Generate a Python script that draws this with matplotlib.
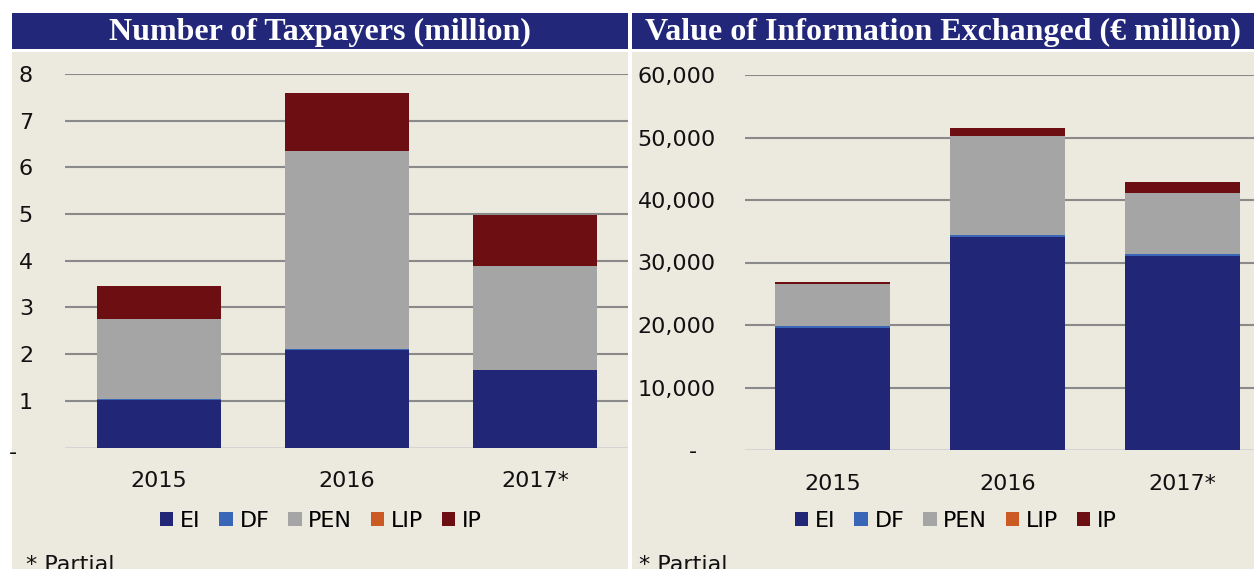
import matplotlib
matplotlib.use("Agg")
import matplotlib.pyplot as plt
import matplotlib.transforms as mtrans
from matplotlib.patches import Rectangle
import numpy as np

# ---- data ----
years = ["2015", "2016", "2017*"]
series = ["EI", "DF", "PEN", "LIP", "IP"]

tax_EI = [1.02, 2.09, 1.66]
tax_DF = [0.01, 0.01, 0.01]
tax_PEN = [1.72, 4.25, 2.22]
tax_LIP = [0.0, 0.0, 0.0]
tax_IP = [0.71, 1.24, 1.09]

val_EI = [19500, 34100, 31000]
val_DF = [300, 350, 350]
val_PEN = [6800, 15750, 9750]
val_LIP = [30, 30, 30]
val_IP = [200, 1300, 1800]

tax_ticks = [0, 1, 2, 3, 4, 5, 6, 7, 8]
val_ticks = [0, 10000, 20000, 30000, 40000, 50000, 60000]

titles = ["Number of Taxpayers (million)", "Value of Information Exchanged (\u20ac million)"]

colors = ["#222676", "#3A66B8", "#A5A5A5", "#CC5A25", "#6C0E12"]
BG = "#ECE9DF"
NAVY = "#22277A"

W, H = 1254, 569
fig = plt.figure(figsize=(W / 100, H / 100), dpi=100)
fig.patch.set_facecolor("white")

def px_rect(x0, y0, x1, y1):
    return [x0 / W, 1 - y1 / H, (x1 - x0) / W, (y1 - y0) / H]

# panel backgrounds and title bars
for (x0, x1) in [(12, 628), (632, 1254)]:
    fig.patches.append(Rectangle((x0 / W, 0), (x1 - x0) / W, 1 - 52 / H,
                                 transform=fig.transFigure, facecolor=BG, edgecolor="none", zorder=-10))
    fig.patches.append(Rectangle((x0 / W, 1 - 49 / H), (x1 - x0) / W, 36 / H,
                                 transform=fig.transFigure, facecolor=NAVY, edgecolor="none", zorder=-10))
fig.text((12 + 628) / 2 / W, 1 - 32 / H, titles[0], color="white", ha="center", va="center",
         fontsize=23, fontweight="bold", family="Liberation Serif")
fig.text((632 + 1254) / 2 / W, 1 - 32 / H, titles[1], color="white", ha="center", va="center",
         fontsize=23, fontweight="bold", family="Liberation Serif")

def draw(ax, data, ticks, fmt, ypad):
    ax.set_facecolor("none")
    ax.set_zorder(1)
    x = np.arange(len(years))
    bottom = np.zeros(len(years))
    handles = []
    for name, vals, c in zip(series, data, colors):
        b = ax.bar(x, vals, width=0.66, bottom=bottom, color=c, edgecolor="none", label=name, zorder=3)
        handles.append(b)
        bottom += np.array(vals)
    for t in ticks[1:]:
        ax.axhline(t, color="#8A8A8A", lw=1.5, zorder=1)
    ax.axhline(0, color="#D2D2D2", lw=1.2, zorder=1)
    for s in ax.spines.values():
        s.set_visible(False)
    ax.set_yticks(ticks)
    ax.set_yticklabels([fmt(t) for t in ticks])
    ax.set_xticks(x)
    ax.set_xticklabels(years)
    ax.tick_params(axis="both", length=0, labelsize=16, colors="#111111")
    ax.tick_params(axis="x", pad=17)
    ax.tick_params(axis="y", pad=ypad)
    ax.legend(handles=handles, loc="center", frameon=False,
              ncol=5, fontsize=16, handlelength=0.6, handleheight=0.6, handletextpad=0.3,
              columnspacing=0.85, borderaxespad=0, borderpad=0)

# left axes
axL = fig.add_axes(px_rect(65, 74, 628, 447.5))
axL.set_ylim(0, 8)
axL.set_xlim(-(159 - 65) / 188, (628 - 159) / 188)
draw(axL, [tax_EI, tax_DF, tax_PEN, tax_LIP, tax_IP], tax_ticks,
     lambda t: "-" if t == 0 else f"{t:g}", 23)

# right axes
axR = fig.add_axes(px_rect(745, 75, 1254, 450))
axR.set_ylim(0, 60000)
axR.set_xlim(-(832.5 - 745) / 175, (1254 - 832.5) / 175)
draw(axR, [val_EI, val_DF, val_PEN, val_LIP, val_IP], val_ticks,
     lambda t: "-" if t == 0 else f"{t:,.0f}", 21)

# legends positions (in pixels)
for ax, cx in [(axL, 321), (axR, 956)]:
    leg = ax.get_legend()
    leg.set_bbox_to_anchor((cx / W, 1 - 521 / H), transform=fig.transFigure)

# shift dash labels
fig.canvas.draw()
labL = axL.yaxis.get_major_ticks()[0].label1
labL.set_transform(labL.get_transform() + mtrans.ScaledTranslation(-16 / 100, -3 / 100, fig.dpi_scale_trans))
labR = axR.yaxis.get_major_ticks()[0].label1
labR.set_transform(labR.get_transform() + mtrans.ScaledTranslation(-19 / 100, 0, fig.dpi_scale_trans))

fig.text(26 / W, 1 - 555 / H, "* Partial", fontsize=16, va="top", ha="left", color="#111111")
fig.text(639 / W, 1 - 555 / H, "* Partial", fontsize=16, va="top", ha="left", color="#111111")

fig.savefig("out.png", dpi=100, facecolor="white")
